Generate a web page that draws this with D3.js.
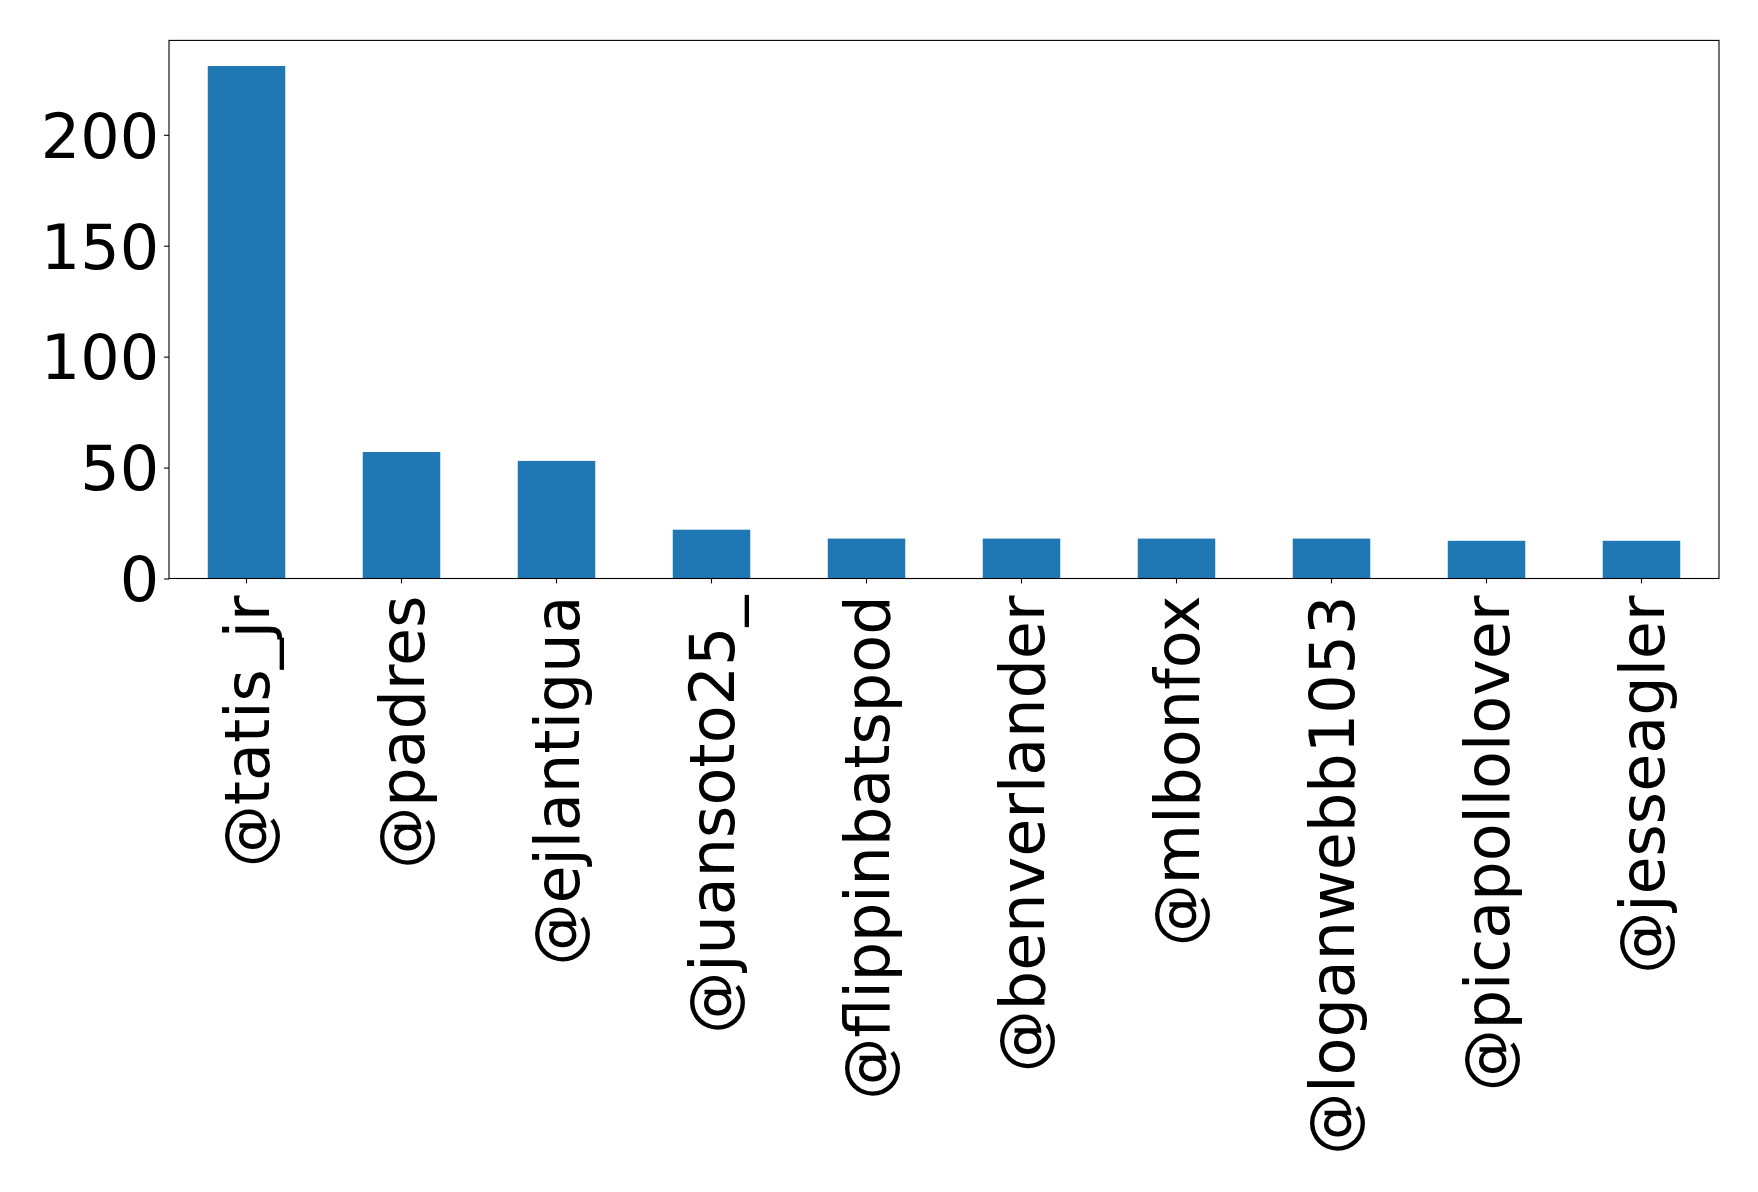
<!DOCTYPE html>
<html>
<head>
<meta charset="utf-8">
<script src="https://cdn.jsdelivr.net/npm/d3@7"></script>
<style>
  body { margin: 0; background: #fff; }
  text { font-family: "DejaVu Sans", sans-serif; fill: #000; }
</style>
</head>
<body>
<div id="chart"></div>
<script>
let accounts = ["@tatis_jr", "@padres", "@ejlantigua", "@juansoto25_", "@flippinbatspod",
    "@benverlander", "@mlbonfox", "@loganwebb1053", "@picapollolover", "@jesseagler"];
let counts = [231, 57, 53, 22, 18, 18, 18, 18, 17, 17];
let yTicks = [0, 50, 100, 150, 200];

let width = 1758, height = 1192;
let margin = {left: 169, right: 39, top: 40.4, bottom: 613.5};
let fontSize = 62;

let svg = d3.select("#chart")
    .append("svg")
    .attr("width", width)
    .attr("height", height);

let x = d3.scaleBand()
    .domain(accounts)
    .range([margin.left, width - margin.right])
    .paddingInner(0.5)
    .paddingOuter(0.25);

let y = d3.scaleLinear()
    .domain([0, d3.max(counts) * 1.05])
    .range([height - margin.bottom, margin.top]);

// bars
svg.selectAll(".bar")
    .data(accounts)
    .enter()
    .append("rect")
    .attr("class", "bar")
    .attr("x", d => x(d))
    .attr("width", x.bandwidth())
    .attr("y", (d, i) => y(counts[i]))
    .attr("height", (d, i) => y(0) - y(counts[i]))
    .attr("fill", "#1f77b4");

// y axis
let yAxis = svg.append("g")
    .attr("transform", `translate(${margin.left},0)`)
    .call(d3.axisLeft(y).tickValues(yTicks).tickSize(4.9).tickPadding(4.9));
yAxis.select(".domain").remove();
yAxis.selectAll("line").attr("stroke-width", 1.1);
yAxis.selectAll("text")
    .style("font-size", fontSize + "px")
    .style("font-family", "DejaVu Sans")
    .attr("dy", "0.36em");

// x axis
let xAxis = svg.append("g")
    .attr("transform", `translate(0,${y(0)})`)
    .call(d3.axisBottom(x).tickSize(4.9).tickPadding(4.9));
xAxis.select(".domain").remove();
xAxis.selectAll("line").attr("stroke-width", 1.1);
xAxis.selectAll("text")
    .style("font-size", fontSize + "px")
    .style("font-family", "DejaVu Sans")
    .attr("text-anchor", "end")
    .attr("transform", "rotate(-90)")
    .attr("x", -17)
    .attr("y", 0)
    .attr("dy", "0.36em");

// frame
svg.append("rect")
    .attr("x", margin.left)
    .attr("y", margin.top)
    .attr("width", width - margin.left - margin.right)
    .attr("height", y(0) - margin.top)
    .attr("fill", "none")
    .attr("stroke", "#000")
    .attr("stroke-width", 1.1);
</script>
</body>
</html>
